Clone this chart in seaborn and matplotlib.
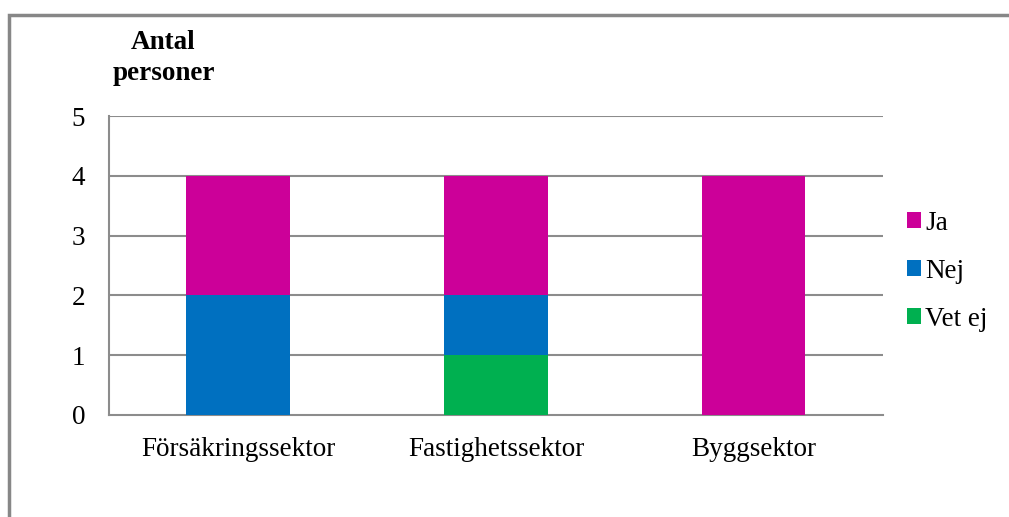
import matplotlib
matplotlib.use("Agg")
import matplotlib.pyplot as plt
from matplotlib.patches import Patch, Rectangle
import numpy as np
import pandas as pd
import seaborn as sns

# Survey answers per sector
sectors = ["Försäkringssektor", "Fastighetssektor", "Byggsektor"]
ja = [2, 2, 4]
nej = [2, 1, 0]
vet_ej = [0, 1, 0]
series_names = ["Ja", "Nej", "Vet ej"]
colors = {"Ja": "#CC0099", "Nej": "#0070C0", "Vet ej": "#00B050"}
y_ticks = [0, 1, 2, 3, 4, 5]

sns.set_style("white")
plt.rcParams["font.family"] = ["Liberation Serif", "DejaVu Serif"]
plt.rcParams["text.color"] = "black"
plt.rcParams["xtick.labelcolor"] = "black"
plt.rcParams["ytick.labelcolor"] = "black"

fig = plt.figure(figsize=(10.09, 5.17), dpi=100)
ax = fig.add_axes([0.108, 0.1973, 0.767, 0.5783])

grid_col = "#8C8C8C"
fs = 19.5

# Stacked bars: draw cumulative totals from top segment down
df = pd.DataFrame({"sektor": sectors, "Ja": ja, "Nej": nej, "Vet ej": vet_ej})
df["top_ja"] = df["Vet ej"] + df["Nej"] + df["Ja"]
df["top_nej"] = df["Vet ej"] + df["Nej"]
df["top_vet"] = df["Vet ej"]
for col, name in [("top_ja", "Ja"), ("top_nej", "Nej"), ("top_vet", "Vet ej")]:
    sns.barplot(data=df, x="sektor", y=col, color=colors[name], width=0.4,
                saturation=1, ax=ax, zorder=3, linewidth=0)

ax.set_xlim(-0.5, 2.5)
ax.set_ylim(0, 5)
ax.set_yticks(y_ticks)
ax.set_yticklabels([str(t) for t in y_ticks], fontsize=fs, color="black")
ax.set_xlabel("")
ax.set_ylabel("")
ax.tick_params(axis="x", which="major", length=0, labelsize=fs, pad=16,
               labelcolor="black")
ax.set_xticks([-0.5, 0.5, 1.5, 2.5], minor=True)
ax.tick_params(axis="x", which="minor", length=7, width=1.5, color=grid_col, direction="out")
ax.tick_params(axis="y", which="major", length=7, width=1.5, color=grid_col,
               direction="out", pad=10, labelcolor="black")
for t in y_ticks[1:]:
    ax.axhline(t, color=grid_col, linewidth=1.5, zorder=1)
for side in ["top", "right"]:
    ax.spines[side].set_visible(False)
for side in ["left", "bottom"]:
    ax.spines[side].set_color(grid_col)
    ax.spines[side].set_linewidth(1.5)

# Axis title above the y axis
fig.text(0.162, 0.888, "Antal\npersoner", ha="center", va="center",
         fontsize=fs, fontweight="bold", linespacing=1.3, color="black")

# Legend
handles = [Patch(facecolor=colors[n], edgecolor="none", label=n) for n in series_names]
fig.legend(handles=handles, loc="center left", bbox_to_anchor=(0.875, 0.475),
           frameon=False, fontsize=fs, handlelength=0.52, handleheight=0.52,
           handletextpad=0.15, labelspacing=0.85, labelcolor="black")

# Outer frame
fig.patches.append(Rectangle((9 / 1009, -0.1), 1.2, 1 - 15 / 517 + 0.1,
                             transform=fig.transFigure, fill=False,
                             edgecolor="#878787", linewidth=2.5))

fig.savefig("out.png", dpi=100)
